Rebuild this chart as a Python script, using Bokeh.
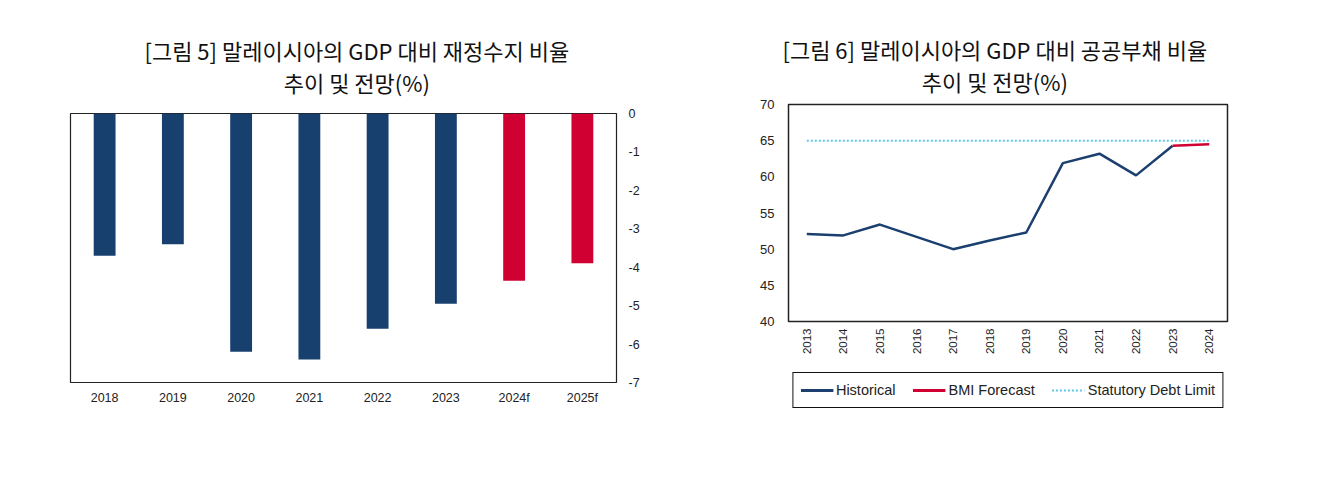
from bokeh.plotting import figure
from bokeh.models import (Range1d, FactorRange, FixedTicker, Title, Legend, LegendItem,
                          ColumnDataSource)
from bokeh.layouts import row, column
from bokeh.embed import file_html
from bokeh.resources import INLINE
import math

# ---- data: fiscal balance (% of GDP)
bal_years = ["2018", "2019", "2020", "2021", "2022", "2023", "2024f", "2025f"]
bal_values = [-3.7, -3.4, -6.2, -6.4, -5.6, -4.95, -4.35, -3.9]
bal_colors = ["#17406f"] * 6 + ["#d10032"] * 2
bal_ticks = [0, -1, -2, -3, -4, -5, -6, -7]

# ---- data: public debt (% of GDP)
debt_years = ["2013", "2014", "2015", "2016", "2017", "2018", "2019", "2020",
              "2021", "2022", "2023", "2024"]
hist_years = debt_years[:11]
hist_values = [52.1, 51.9, 53.4, 51.7, 50.0, 51.2, 52.3, 61.9, 63.2, 60.2, 64.3]
fc_years = ["2023", "2024"]
fc_values = [64.3, 64.5]
limit_values = [65] * 12
debt_ticks = [40, 45, 50, 55, 60, 65, 70]
legend_labels = ["Historical", "BMI Forecast", "Statutory Debt Limit"]

TFONT = "Noto Sans CJK KR"
LFONT = "Liberation Sans"
C_HIST = "#1b3f6e"
C_FC = "#d10032"
C_LIM = "#5cc8e4"


def titles(p, line1, line2, standoff, offset):
    p.add_layout(Title(text=line1 + "\n" + line2, align="left", offset=offset,
                       text_font=TFONT, text_font_size="22px", text_font_style="normal",
                       text_line_height=1.0, text_align="center",
                       text_color="#111111", standoff=standoff), "above")


def style_axis(ax, size):
    ax.axis_line_color = None
    ax.major_tick_line_color = None
    ax.minor_tick_line_color = None
    ax.major_label_text_font = LFONT
    ax.major_label_text_font_size = size
    ax.major_label_text_color = "#222222"


# ================= left chart =================
p1 = figure(x_range=FactorRange(*bal_years), y_range=Range1d(-7, 0),
            frame_width=546, frame_height=269, y_axis_location="right",
            min_border_left=70, min_border_right=64, min_border_top=113,
            min_border_bottom=40, output_backend="svg", toolbar_location=None)
src1 = ColumnDataSource(dict(x=bal_years, top=[0] * 8, bottom=bal_values, c=bal_colors))
p1.vbar(x="x", top="top", bottom="bottom", width=0.32, fill_color="c",
        line_color=None, source=src1)
p1.xgrid.visible = False
p1.ygrid.visible = False
p1.outline_line_color = "#222222"
p1.outline_line_width = 1.2
p1.yaxis.ticker = FixedTicker(ticks=bal_ticks)
p1.yaxis.major_label_overrides = {t: ("0" if t == 0 else "-%d" % (-t)) for t in bal_ticks}
style_axis(p1.xaxis[0], "12.5px")
style_axis(p1.yaxis[0], "12.5px")
p1.xaxis.major_label_standoff = 2
p1.yaxis.major_label_standoff = 6
titles(p1, "[그림 5] 말레이시아의 GDP 대비 재정수지 비율", "추이 및 전망(%)", 32, 74)

# ================= right chart =================
p2 = figure(x_range=FactorRange(*debt_years), y_range=Range1d(40, 70),
            frame_width=439, frame_height=217,
            min_border_left=108, min_border_right=50, min_border_top=104,
            min_border_bottom=10, output_backend="svg", toolbar_location=None)
p2.line(x=hist_years, y=hist_values, line_color=C_HIST, line_width=2.5)
p2.line(x=fc_years, y=fc_values, line_color=C_FC, line_width=2.5)
p2.line(x=debt_years, y=limit_values, line_color=C_LIM, line_width=2, line_dash="2 2")
p2.xgrid.visible = False
p2.ygrid.visible = False
p2.outline_line_color = "#222222"
p2.outline_line_width = 1.5
p2.yaxis.ticker = FixedTicker(ticks=debt_ticks)
style_axis(p2.xaxis[0], "11.5px")
style_axis(p2.yaxis[0], "13px")
p2.xaxis.major_label_orientation = math.pi / 2
p2.xaxis.major_label_standoff = 1
p2.yaxis.major_label_standoff = 8
titles(p2, "[그림 6] 말레이시아의 GDP 대비 공공부채 비율", "추이 및 전망(%)", 15, -6)

# ---- legend strip under the right chart (series drawn off-range, only keys show)
p3 = figure(x_range=FactorRange(*debt_years), y_range=Range1d(0, 1),
            frame_width=439, frame_height=36,
            min_border_left=108, min_border_right=50, min_border_top=15,
            min_border_bottom=0, output_backend="svg", toolbar_location=None)
p3.axis.visible = False
p3.grid.visible = False
p3.outline_line_color = None
k1 = p3.line(x=hist_years, y=hist_values, line_color=C_HIST, line_width=3)
k2 = p3.line(x=fc_years, y=fc_values, line_color=C_FC, line_width=3)
k3 = p3.line(x=debt_years, y=limit_values, line_color=C_LIM, line_width=2,
             line_dash="2 2")
legend = Legend(items=[LegendItem(label=legend_labels[0], renderers=[k1]),
                       LegendItem(label=legend_labels[1], renderers=[k2]),
                       LegendItem(label=legend_labels[2], renderers=[k3])],
                orientation="horizontal", location="center",
                border_line_color="#111111", border_line_width=1.5, border_line_alpha=1,
                background_fill_color="white", background_fill_alpha=1,
                label_text_font=LFONT, label_text_font_size="14.5px",
                label_text_color="#222222", glyph_width=33, spacing=17,
                padding=7, margin=0, label_standoff=3)
p3.add_layout(legend, "center")

layout = row(p1, column(p2, p3))
open("out.html", "w").write(file_html(layout, INLINE))
